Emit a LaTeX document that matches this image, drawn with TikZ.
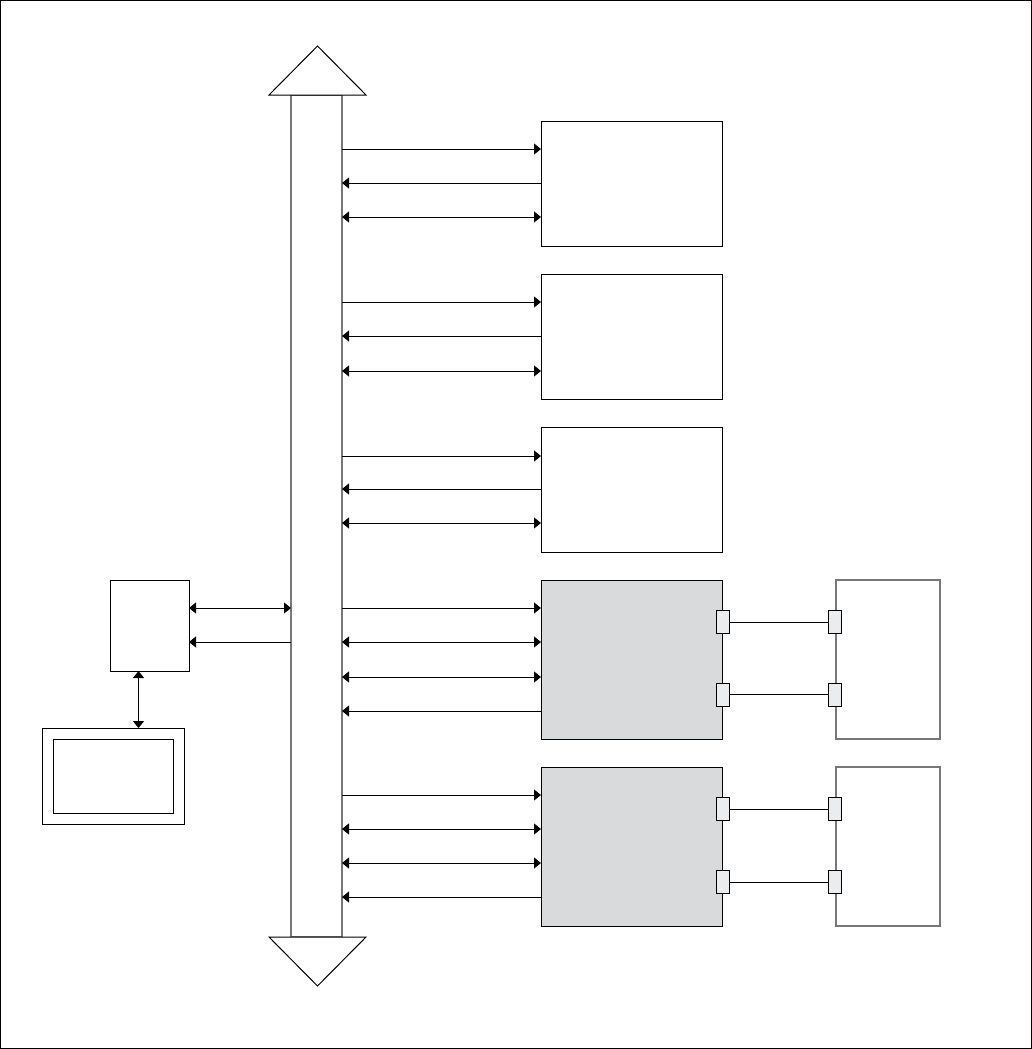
\documentclass[tikz,border=0pt]{standalone}
\usetikzlibrary{arrows.meta}
\definecolor{boxgray}{RGB}{217,218,220}
\definecolor{congray}{RGB}{235,236,238}
\definecolor{busgray}{RGB}{120,120,120}
\begin{document}
\begin{tikzpicture}[x=1pt,y=-1pt,
  every node/.style={inner sep=0,outer sep=0},
  blk/.style={draw,line width=1pt,rectangle},
  gblk/.style={blk,fill=boxgray},
  rblk/.style={draw=busgray,line width=1.2pt,rectangle},
  conn/.style={draw,line width=1pt,fill=congray,minimum width=13pt,minimum height=23pt},
  ln/.style={line width=1pt},
  tip/.style={{Triangle[length=7pt,width=11pt]}},
  ar/.style={ln,-{Triangle[length=7pt,width=11pt]}},
  al/.style={ln,{Triangle[length=7pt,width=11pt]}-},
  ab/.style={ln,{Triangle[length=7pt,width=11pt]}-{Triangle[length=7pt,width=11pt]}}]
\useasboundingbox (0,0) rectangle (1032,1049);
\draw[line width=1pt] (0.5,0.5) rectangle (1031.5,1048.5);
% bus
\node[draw=busgray,line width=1.2pt,minimum width=51pt,minimum height=842pt] (bus) at (316.5,516) {};
\draw[line width=1pt,fill=white] (269,95) -- (317.5,46) -- (366,95) -- cycle;
\draw[line width=1pt,fill=white] (269,937) -- (317.5,986) -- (366,937) -- cycle;
% right boxes
\node[blk,minimum width=181pt,minimum height=125pt] (b1) at (631.5,183.5) {};
\node[blk,minimum width=181pt,minimum height=125pt] (b2) at (631.5,336.5) {};
\node[blk,minimum width=181pt,minimum height=125pt] (b3) at (631.5,489.5) {};
\node[gblk,minimum width=181pt,minimum height=159pt] (b4) at (631.5,659.5) {};
\node[gblk,minimum width=181pt,minimum height=159pt] (b5) at (631.5,846.5) {};
\node[rblk,minimum width=104pt,minimum height=159pt] (r1) at (888,659.5) {};
\node[rblk,minimum width=104pt,minimum height=159pt] (r2) at (888,846.5) {};
% arrows box1
\draw[ar] (bus.east |- 0,149) -- (b1.west |- 0,149);
\draw[al] (bus.east |- 0,183) -- (b1.west |- 0,183);
\draw[ab] (bus.east |- 0,217) -- (b1.west |- 0,217);
% box2
\draw[ar] (bus.east |- 0,302) -- (b2.west |- 0,302);
\draw[al] (bus.east |- 0,336) -- (b2.west |- 0,336);
\draw[ab] (bus.east |- 0,371) -- (b2.west |- 0,371);
% box3
\draw[ar] (bus.east |- 0,456) -- (b3.west |- 0,456);
\draw[al] (bus.east |- 0,489) -- (b3.west |- 0,489);
\draw[ab] (bus.east |- 0,523) -- (b3.west |- 0,523);
% box4
\draw[ar] (bus.east |- 0,608) -- (b4.west |- 0,608);
\draw[ab] (bus.east |- 0,642) -- (b4.west |- 0,642);
\draw[ab] (bus.east |- 0,677) -- (b4.west |- 0,677);
\draw[al] (bus.east |- 0,711) -- (b4.west |- 0,711);
% box5
\draw[ar] (bus.east |- 0,795) -- (b5.west |- 0,795);
\draw[ab] (bus.east |- 0,829) -- (b5.west |- 0,829);
\draw[ab] (bus.east |- 0,863) -- (b5.west |- 0,863);
\draw[al] (bus.east |- 0,897) -- (b5.west |- 0,897);
% connectors
\node[conn] (c1a) at (722.5,622) {};
\node[conn] (c1b) at (835,622) {};
\node[conn] (c2a) at (722.5,694.5) {};
\node[conn] (c2b) at (835,694.5) {};
\node[conn] (c3a) at (722.5,809) {};
\node[conn] (c3b) at (835,809) {};
\node[conn] (c4a) at (722.5,882) {};
\node[conn] (c4b) at (835,882) {};
\draw[ln] (c1a.east) -- (c1b.west);
\draw[ln] (c2a.east) -- (c2b.west);
\draw[ln] (c3a.east) -- (c3b.west);
\draw[ln] (c4a.east) -- (c4b.west);
% left box
\node[blk,minimum width=79pt,minimum height=91pt] (lb) at (149.5,625.5) {};
\draw[ab] (lb.east |- 0,608) -- (bus.west |- 0,608);
\draw[al] (lb.east |- 0,642) -- (bus.west |- 0,642);
% monitor
\node[blk,minimum width=142pt,minimum height=96pt] (mon) at (113,776) {};
\node[blk,minimum width=120pt,minimum height=74pt] (scr) at (113,776) {};
\draw[ab] (lb.south -| 138.5,0) -- (mon.north -| 138.5,0);
\end{tikzpicture}
\end{document}
